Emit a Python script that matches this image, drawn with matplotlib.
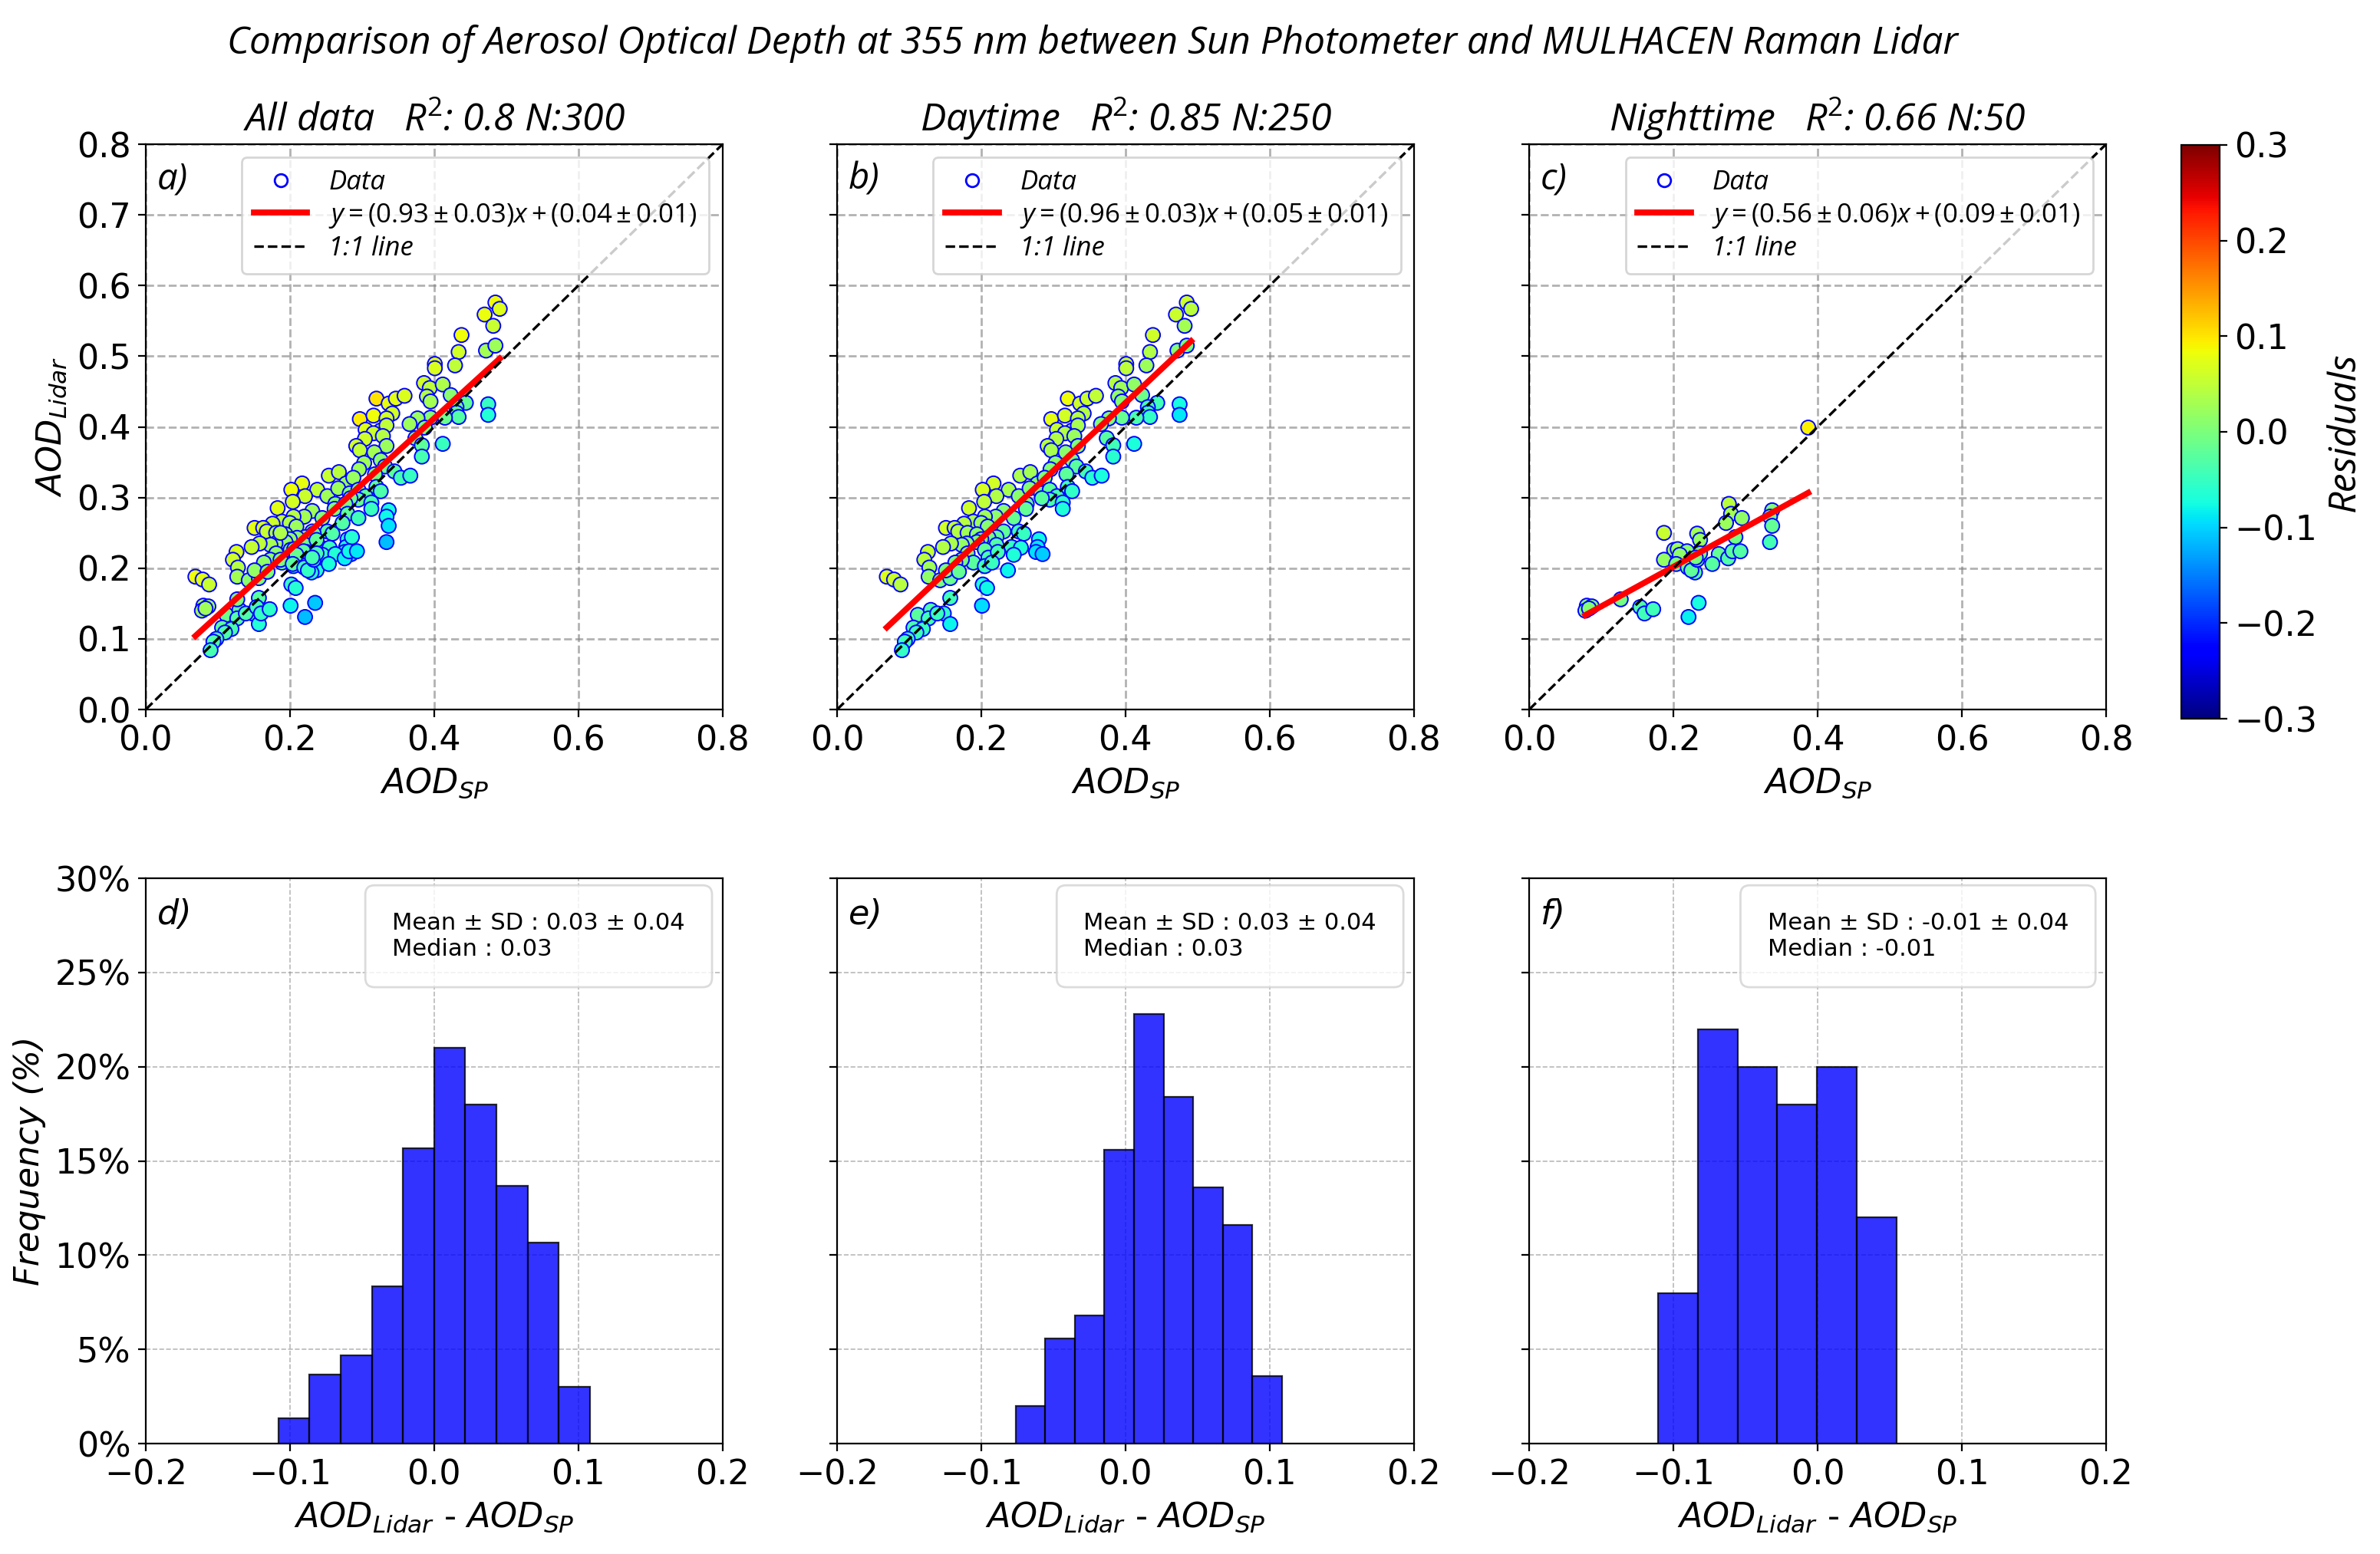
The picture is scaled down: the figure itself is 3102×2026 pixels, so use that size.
import numpy as np
import matplotlib
matplotlib.use("Agg")
import matplotlib.pyplot as plt
from matplotlib.lines import Line2D
from matplotlib.ticker import PercentFormatter, MultipleLocator

# --- daytime matchups (AOD_SP, AOD_Lidar) ---
day_sp = [0.485, 0.491, 0.470, 0.482, 0.438, 0.434, 0.472, 0.485, 0.429, 0.401,
          0.401, 0.386, 0.394, 0.412, 0.390, 0.423, 0.320, 0.337, 0.347, 0.359,
          0.342, 0.444, 0.475, 0.475, 0.431, 0.431, 0.434, 0.415, 0.395, 0.377,
          0.366, 0.297, 0.316, 0.334, 0.395, 0.305, 0.326, 0.334, 0.316, 0.329,
          0.304, 0.292, 0.297, 0.334, 0.317, 0.374, 0.383, 0.383, 0.412, 0.303,
          0.326, 0.296, 0.332, 0.345, 0.354, 0.367, 0.318, 0.254, 0.268, 0.278,
          0.288, 0.217, 0.202, 0.238, 0.221, 0.204, 0.252, 0.267, 0.283, 0.295,
          0.305, 0.320, 0.326, 0.295, 0.313, 0.313, 0.284, 0.263, 0.262, 0.183,
          0.231, 0.245, 0.220, 0.205, 0.189, 0.176, 0.200, 0.209, 0.151, 0.163,
          0.168, 0.181, 0.194, 0.252, 0.259, 0.231, 0.221, 0.210, 0.200, 0.194,
          0.180, 0.173, 0.158, 0.147, 0.280, 0.278, 0.276, 0.285, 0.242, 0.255,
          0.245, 0.221, 0.205, 0.210, 0.223, 0.181, 0.189, 0.173, 0.164, 0.126,
          0.121, 0.128, 0.127, 0.143, 0.157, 0.151, 0.169, 0.205, 0.215, 0.237,
          0.069, 0.079, 0.088, 0.202, 0.208, 0.201, 0.157, 0.112, 0.130, 0.127,
          0.148, 0.157, 0.106, 0.119, 0.110, 0.098, 0.094, 0.090, 0.139]
day_lidar = [0.576, 0.567, 0.559, 0.543, 0.530, 0.506, 0.508, 0.515, 0.487, 0.489,
             0.483, 0.462, 0.455, 0.460, 0.443, 0.445, 0.440, 0.433, 0.440, 0.444,
             0.419, 0.434, 0.432, 0.417, 0.428, 0.420, 0.414, 0.413, 0.413, 0.412,
             0.404, 0.411, 0.416, 0.412, 0.436, 0.396, 0.395, 0.402, 0.391, 0.387,
             0.383, 0.373, 0.367, 0.373, 0.364, 0.384, 0.374, 0.358, 0.376, 0.349,
             0.353, 0.340, 0.344, 0.337, 0.328, 0.331, 0.333, 0.331, 0.336, 0.320,
             0.328, 0.320, 0.311, 0.311, 0.302, 0.294, 0.302, 0.313, 0.306, 0.311,
             0.302, 0.315, 0.309, 0.297, 0.293, 0.284, 0.299, 0.291, 0.284, 0.285,
             0.281, 0.271, 0.273, 0.273, 0.266, 0.263, 0.264, 0.259, 0.257, 0.257,
             0.252, 0.250, 0.248, 0.252, 0.249, 0.252, 0.244, 0.243, 0.241, 0.237,
             0.235, 0.233, 0.235, 0.230, 0.241, 0.230, 0.223, 0.220, 0.230, 0.229,
             0.219, 0.233, 0.226, 0.215, 0.223, 0.221, 0.208, 0.212, 0.208, 0.223,
             0.212, 0.201, 0.188, 0.183, 0.186, 0.197, 0.195, 0.203, 0.208, 0.197,
             0.188, 0.184, 0.177, 0.177, 0.172, 0.147, 0.158, 0.134, 0.141, 0.129,
             0.136, 0.121, 0.116, 0.114, 0.109, 0.100, 0.096, 0.084, 0.136]

# --- nighttime matchups ---
night_sp = [0.387, 0.277, 0.280, 0.273, 0.295, 0.187, 0.233, 0.237, 0.286, 0.337,
            0.334, 0.337, 0.334, 0.201, 0.206, 0.219, 0.209, 0.187, 0.204, 0.220,
            0.230, 0.225, 0.233, 0.237, 0.263, 0.276, 0.282, 0.293, 0.254, 0.235,
            0.221, 0.127, 0.154, 0.160, 0.172, 0.080, 0.087, 0.078, 0.083, 0.231]
night_lidar = [0.399, 0.291, 0.277, 0.264, 0.271, 0.250, 0.249, 0.240, 0.244, 0.282,
               0.273, 0.260, 0.237, 0.226, 0.227, 0.224, 0.219, 0.212, 0.206, 0.201,
               0.194, 0.197, 0.212, 0.221, 0.220, 0.214, 0.224, 0.224, 0.206, 0.151,
               0.131, 0.156, 0.145, 0.136, 0.142, 0.147, 0.146, 0.140, 0.143, 0.215]

panel_names = ["All data", "Daytime", "Nighttime"]
r2 = [0.8, 0.85, 0.66]
n_obs = [300, 250, 50]
slopes = [0.93, 0.96, 0.56]
slope_err = [0.03, 0.03, 0.06]
intercepts = [0.04, 0.05, 0.09]
intercept_err = [0.01, 0.01, 0.01]

# histograms of AOD_Lidar - AOD_SP (percent per bin)
hist_ranges = [(-0.108, 0.108), (-0.0762, 0.1085), (-0.1107, 0.0547)]
hist_all = [1.33, 3.67, 4.67, 8.33, 15.67, 21.0, 18.0, 13.67, 10.67, 3.0]
hist_day = [2.0, 5.6, 6.8, 15.6, 22.8, 18.4, 13.6, 11.6, 3.6]
hist_night = [8.0, 22.0, 20.0, 18.0, 20.0, 12.0]
res_mean = ["0.03", "0.03", "-0.01"]
res_sd = ["0.04", "0.04", "0.04"]
res_median = ["0.03", "0.03", "-0.01"]

# --- fonts ---
NARROW = "Open Sans"
plt.rcParams["font.family"] = "DejaVu Sans"
plt.rcParams["mathtext.fontset"] = "custom"
plt.rcParams["mathtext.rm"] = NARROW
plt.rcParams["mathtext.it"] = NARROW + ":italic"
plt.rcParams["mathtext.bf"] = NARROW + ":bold"
plt.rcParams["xtick.labelsize"] = 16
plt.rcParams["ytick.labelsize"] = 16

narrow_it = dict(family=NARROW, style="italic")

fig = plt.figure(figsize=(15.51, 10.13), dpi=200)

lefts = [0.0612, 0.3517, 0.6425]
width = 0.2424
top_row = [0.5434, 0.3638]
bot_row = [0.0710, 0.3638]

all_sp = day_sp + night_sp
all_lidar = day_lidar + night_lidar
xs = [np.array(all_sp), np.array(day_sp), np.array(night_sp)]
ys = [np.array(all_lidar), np.array(day_lidar), np.array(night_lidar)]
hists = [hist_all, hist_day, hist_night]
tags_top = ["a)", "b)", "c)"]
tags_bot = ["d)", "e)", "f)"]

cmap = plt.get_cmap("jet")
ax0 = None
hx0 = None
for i in range(3):
    ax = fig.add_axes([lefts[i], top_row[0], width, top_row[1]], sharey=ax0)
    if ax0 is None:
        ax0 = ax
    x, y = xs[i], ys[i]
    resid = y - (slopes[i] * x + intercepts[i])
    ax.grid(True, linestyle="--", color="gray", alpha=0.6, lw=1.0, zorder=0)
    sc_pts = ax.scatter(x, y, c=resid, cmap=cmap, vmin=-0.3, vmax=0.3, s=46,
                        edgecolors="blue", linewidths=0.7, zorder=3)
    xf = np.array([x.min(), x.max()])
    ax.plot(xf, slopes[i] * xf + intercepts[i], color="red", lw=2.8, zorder=4)
    ax.plot([0, 0.8], [0, 0.8], "k--", lw=1.2, zorder=4)
    ax.set_xlim(0, 0.8)
    ax.set_ylim(0, 0.8)
    ax.xaxis.set_major_locator(MultipleLocator(0.2))
    ax.yaxis.set_major_locator(MultipleLocator(0.1))
    ax.set_xlabel(r"$AOD_{SP}$", fontsize=16, math_fontfamily="dejavusans")
    if i == 0:
        ax.set_ylabel(r"$AOD_{Lidar}$", fontsize=16, math_fontfamily="dejavusans")
    else:
        ax.tick_params(labelleft=False)
    ax.set_title(f"{panel_names[i]}   R$^2$: {r2[i]} N:{n_obs[i]}",
                 fontsize=18, pad=6, **narrow_it)
    ax.text(0.02, 0.97, tags_top[i], transform=ax.transAxes, va="top",
            fontsize=17, **narrow_it)
    handles = [
        Line2D([], [], ls="none", marker="o", mfc="none", mec="blue", ms=6),
        Line2D([], [], color="red", lw=2.8),
        Line2D([], [], color="black", ls="--", lw=1.2),
    ]
    labels = [
        "Data",
        rf"$y = ({slopes[i]:.2f} \pm {slope_err[i]:.2f})x + ({intercepts[i]:.2f} \pm {intercept_err[i]:.2f})$",
        "1:1 line",
    ]
    leg = ax.legend(handles, labels, loc="upper right", borderpad=0.45, labelspacing=0.22,
                    prop=dict(size=12.5, **narrow_it))
    leg.set_zorder(6)

    # histogram of differences
    hx = fig.add_axes([lefts[i], bot_row[0], width, bot_row[1]], sharey=hx0)
    if hx0 is None:
        hx0 = hx
    lo, hi = hist_ranges[i]
    edges = np.linspace(lo, hi, len(hists[i]) + 1)
    hx.grid(True, linestyle="--", color="gray", alpha=0.55, lw=0.6, zorder=0)
    hx.bar(edges[:-1], hists[i], width=np.diff(edges), align="edge", color="blue",
           alpha=0.8, edgecolor="black", lw=0.8, zorder=3)
    hx.set_xlim(-0.2, 0.2)
    hx.set_ylim(0, 30)
    hx.xaxis.set_major_locator(MultipleLocator(0.1))
    hx.yaxis.set_major_locator(MultipleLocator(5))
    hx.yaxis.set_major_formatter(PercentFormatter(decimals=0))
    hx.set_xlabel(r"$AOD_{Lidar}$ - $AOD_{SP}$", fontsize=16, math_fontfamily="dejavusans")
    if i == 0:
        hx.set_ylabel("Frequency (%)", fontsize=16, style="italic")
    else:
        hx.tick_params(labelleft=False)
    hx.text(0.02, 0.965, tags_bot[i], transform=hx.transAxes, va="top",
            fontsize=16, style="italic")
    txt = f"Mean \u00b1 SD : {res_mean[i]} \u00b1 {res_sd[i]}\nMedian : {res_median[i]}"
    hx.text(0.935, 0.94, txt, transform=hx.transAxes, va="top", ha="right",
            multialignment="left", fontsize=11, zorder=6,
            bbox=dict(boxstyle="round,pad=1.15,rounding_size=0.4", facecolor="white",
                      edgecolor="lightgray", alpha=0.8))

cax = fig.add_axes([0.9165, 0.5375, 0.0161, 0.3693])
cb = fig.colorbar(sc_pts, cax=cax)
cb.set_ticks(np.arange(-0.3, 0.31, 0.1))
cb.ax.tick_params(labelsize=16)
cb.set_label("Residuals", fontsize=18, labelpad=4, **narrow_it)

fig.text(0.459, 0.972, "Comparison of Aerosol Optical Depth at 355 nm between Sun Photometer and MULHACEN Raman Lidar",
         ha="center", va="center", fontsize=17.8, **narrow_it)

fig.savefig("out.png", dpi=200)
